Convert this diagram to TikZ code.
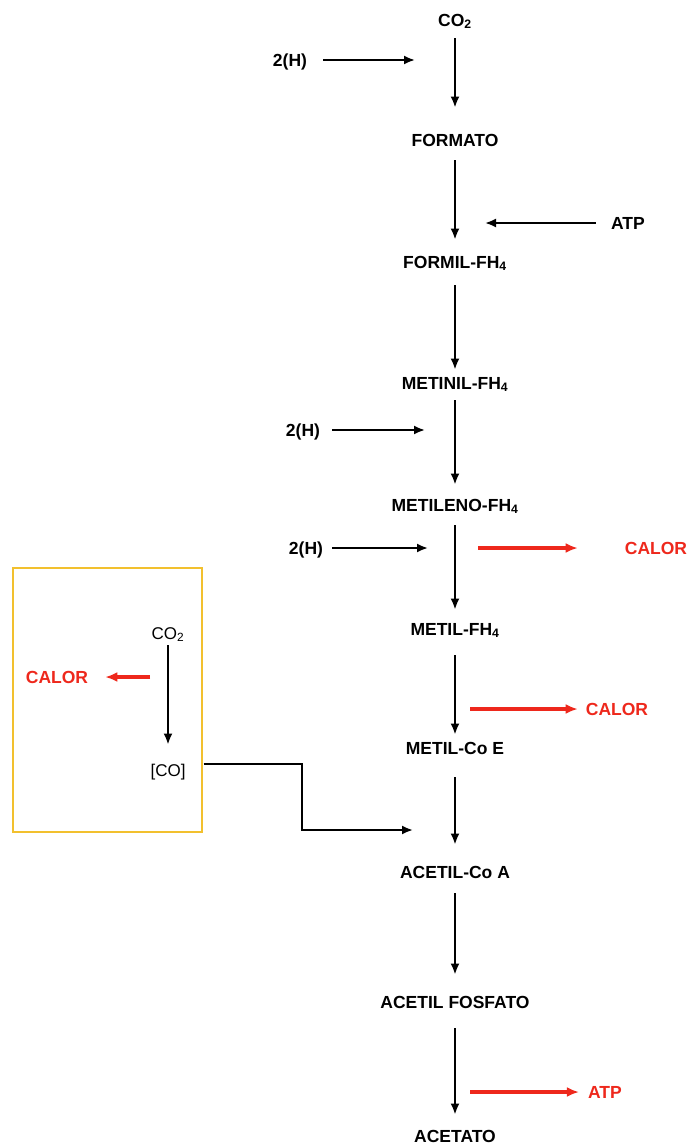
\documentclass[tikz,border=0pt]{standalone}
\usepackage{fontspec}
\setmainfont{Liberation Sans}
\usetikzlibrary{arrows.meta}
\definecolor{redc}{RGB}{238,40,28}
\definecolor{boxy}{RGB}{242,192,46}
\begin{document}
\begin{tikzpicture}[x=1pt,y=-1pt,
  lbl/.style={font=\fontsize{17.5}{17.5}\selectfont\bfseries, inner sep=0pt, text height=12.5pt, text depth=0pt, anchor=center},
  blbl/.style={font=\fontsize{17}{17}\selectfont, inner sep=0pt, text height=12.5pt, text depth=0pt, anchor=center},
  rlbl/.style={lbl, text=redc},
  arr/.style={draw=black, line width=2pt, -{Latex[length=11pt,width=9pt]}},
  rarr/.style={draw=redc, line width=3.2pt, -{Latex[length=12pt,width=10pt]}},
  frame/.style={draw=boxy, line width=2.5pt, inner sep=0pt}]
\fill[white] (0,0) rectangle (689,1146);
\useasboundingbox (0,0) rectangle (689,1146);

% main chain
\node[lbl] (co2) at (455,20) {CO\textsubscript{2}};
\node[lbl] (formato) at (455,140) {FORMATO};
\node[lbl] (formil) at (455,262) {FORMIL-FH\textsubscript{4}};
\node[lbl] (metinil) at (455,383) {METINIL-FH\textsubscript{4}};
\node[lbl] (metileno) at (455,505) {METILENO-FH\textsubscript{4}};
\node[lbl] (metil) at (455,629) {METIL-FH\textsubscript{4}};
\node[lbl] (metilcoe) at (455,748) {METIL-Co E};
\node[lbl] (acetilcoa) at (455,872) {ACETIL-Co A};
\node[lbl] (acetilfos) at (455,1002) {ACETIL FOSFATO};
\node[lbl] (acetato) at (455,1136) {ACETATO};

\draw[arr, shorten <=12pt, shorten >=26pt] (co2) -- (formato);
\draw[arr, shorten <=14pt, shorten >=16pt] (formato) -- (formil);
\draw[arr, shorten <=17pt, shorten >=7pt] (formil) -- (metinil);
\draw[arr, shorten <=11pt, shorten >=14pt] (metinil) -- (metileno);
\draw[arr, shorten <=14pt, shorten >=13pt] (metileno) -- (metil);
\draw[arr, shorten <=20pt, shorten >=7pt] (metil) -- (metilcoe);
\draw[arr, shorten <=23pt, shorten >=21pt] (metilcoe) -- (acetilcoa);
\draw[arr, shorten <=15pt, shorten >=21pt] (acetilcoa) -- (acetilfos);
\draw[arr, shorten <=20pt, shorten >=15pt] (acetilfos) -- (acetato);

% side inputs
\node[lbl] (h1) at (290,60) {2(H)};
\coordinate (h1e) at (415,60);
\draw[arr, shorten <=16pt] (h1.east) -- (h1e);

\node[lbl] (atp1) at (628,223) {ATP};
\coordinate (atp1e) at (485,223);
\draw[arr, shorten <=15pt] (atp1.west) -- (atp1e);

\node[lbl] (h2) at (303,430) {2(H)};
\coordinate (h2e) at (425,430);
\draw[arr, shorten <=12pt] (h2.east) -- (h2e);

\node[lbl] (h3) at (306,548) {2(H)};
\coordinate (h3e) at (428,548);
\draw[arr, shorten <=9pt] (h3.east) -- (h3e);

% red outputs
\node[rlbl] (calor1) at (656,548) {CALOR};
\coordinate (c1s) at (478,548);
\draw[rarr, shorten >=47pt] (c1s) -- (calor1.west);

\node[rlbl] (calor2) at (617,709) {CALOR};
\coordinate (c2s) at (470,709);
\draw[rarr, shorten >=8pt] (c2s) -- (calor2.west);

\node[rlbl] (atp2) at (605,1092) {ATP};
\coordinate (a2s) at (470,1092);
\draw[rarr, shorten >=9pt] (a2s) -- (atp2.west);

% box
\node[frame, minimum width=189pt, minimum height=264pt] (box) at (107.5,700) {};
\node[blbl] (co2b) at (168,633) {CO\textsubscript{2}};
\node[blbl] (co) at (168,770) {[CO]};
\draw[arr, shorten <=6pt, shorten >=19pt] (co2b) -- (co);

\node[rlbl] (calor3) at (57,677) {CALOR};
\coordinate (c3s) at (150,677);
\draw[rarr, shorten >=17pt] (c3s) -- (calor3.east);

\coordinate (bend) at (302,0);
\coordinate (cotgt) at (413,830);
\draw[arr, shorten <=18pt] (co.north east) -| (bend |- cotgt) -- (cotgt);
\end{tikzpicture}
\end{document}
